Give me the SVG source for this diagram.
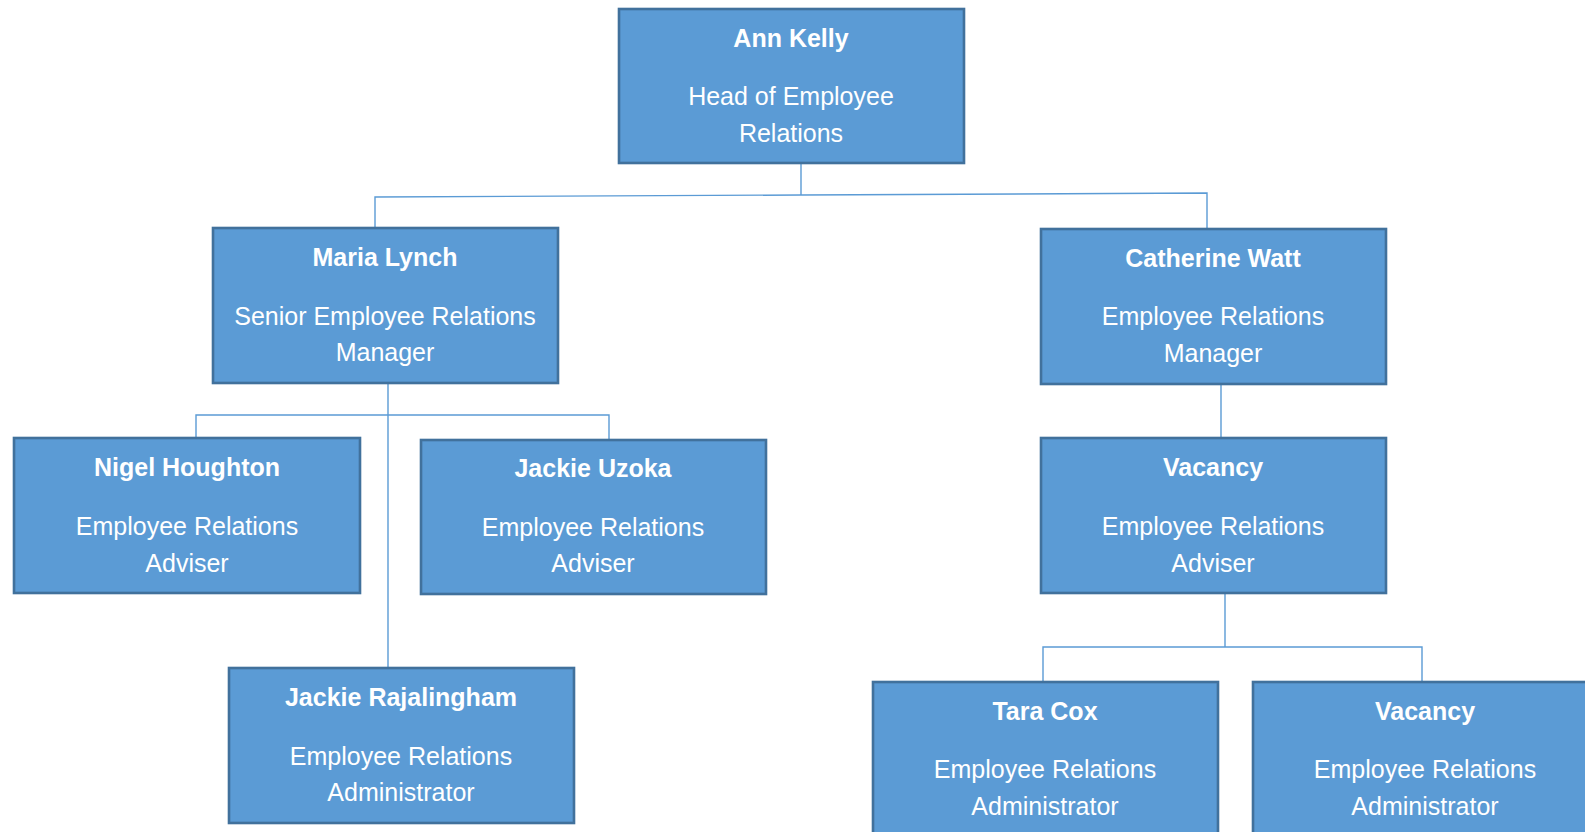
<svg xmlns="http://www.w3.org/2000/svg" width="1585" height="832" viewBox="0 0 1585 832">
<style>
.box{fill:#5B9BD5;stroke:#41719C;stroke-width:2.6}
.t{font-family:"Liberation Sans",Arial,sans-serif;font-size:25px;fill:#FFFFFF;text-anchor:middle}
.n{font-weight:bold}
.c{fill:none;stroke:#5B9BD5;stroke-width:1.4}
</style>
<rect width="1585" height="832" fill="#FFFFFF"/>
<g id="connectors">
<polyline class="c" points="801,163 801,195"/>
<polyline class="c" points="375,228 375,197 801,195 1207,193 1207,229"/>
<polyline class="c" points="388,383 388,668"/>
<polyline class="c" points="196,438 196,415 609,415 609,440"/>
<polyline class="c" points="1221,384 1221,438"/>
<polyline class="c" points="1225,593 1225,647"/>
<polyline class="c" points="1043,682 1043,647 1422,647 1422,682"/>
</g>
<g id="ann-kelly">
<rect class="box" x="619" y="9" width="345" height="154"/>
<text class="t n" x="791" y="47">Ann Kelly</text>
<text class="t" x="791" y="105">Head of Employee</text>
<text class="t" x="791" y="142">Relations</text>
</g>
<g id="maria-lynch">
<rect class="box" x="213" y="228" width="345" height="155"/>
<text class="t n" x="385" y="266">Maria Lynch</text>
<text class="t" x="385" y="325">Senior Employee Relations</text>
<text class="t" x="385" y="361">Manager</text>
</g>
<g id="catherine-watt">
<rect class="box" x="1041" y="229" width="345" height="155"/>
<text class="t n" x="1213" y="267">Catherine Watt</text>
<text class="t" x="1213" y="325">Employee Relations</text>
<text class="t" x="1213" y="362">Manager</text>
</g>
<g id="nigel-houghton">
<rect class="box" x="14" y="438" width="346" height="155"/>
<text class="t n" x="187" y="476">Nigel Houghton</text>
<text class="t" x="187" y="535">Employee Relations</text>
<text class="t" x="187" y="572">Adviser</text>
</g>
<g id="jackie-uzoka">
<rect class="box" x="421" y="440" width="345" height="154"/>
<text class="t n" x="593" y="477">Jackie Uzoka</text>
<text class="t" x="593" y="536">Employee Relations</text>
<text class="t" x="593" y="572">Adviser</text>
</g>
<g id="vacancy-adviser">
<rect class="box" x="1041" y="438" width="345" height="155"/>
<text class="t n" x="1213" y="476">Vacancy</text>
<text class="t" x="1213" y="535">Employee Relations</text>
<text class="t" x="1213" y="572">Adviser</text>
</g>
<g id="jackie-rajalingham">
<rect class="box" x="229" y="668" width="345" height="155"/>
<text class="t n" x="401" y="706">Jackie Rajalingham</text>
<text class="t" x="401" y="765">Employee Relations</text>
<text class="t" x="401" y="801">Administrator</text>
</g>
<g id="tara-cox">
<rect class="box" x="873" y="682" width="345" height="160"/>
<text class="t n" x="1045" y="720">Tara Cox</text>
<text class="t" x="1045" y="778">Employee Relations</text>
<text class="t" x="1045" y="815">Administrator</text>
</g>
<g id="vacancy-administrator">
<rect class="box" x="1253" y="682" width="345" height="160"/>
<text class="t n" x="1425" y="720">Vacancy</text>
<text class="t" x="1425" y="778">Employee Relations</text>
<text class="t" x="1425" y="815">Administrator</text>
</g>
</svg>
